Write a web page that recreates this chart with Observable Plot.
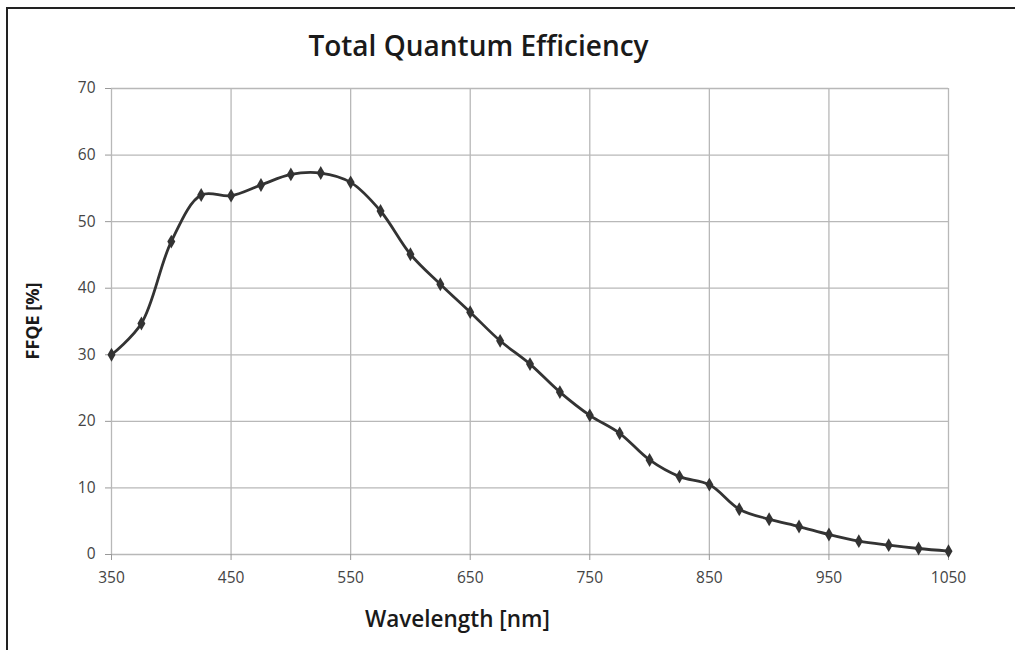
<!DOCTYPE html>
<html>
<head>
<meta charset="utf-8">
<script src="https://cdn.jsdelivr.net/npm/d3@7"></script>
<script src="https://cdn.jsdelivr.net/npm/@observablehq/plot@0.6"></script>
<style>
  html, body { margin: 0; padding: 0; background: #fff; overflow: hidden; }
  #wrap { position: relative; width: 1015px; height: 650px; overflow: hidden; }
  #frame { position: absolute; left: 6px; top: 7px; width: 1100px; height: 700px;
           border-top: 2px solid #222; border-left: 2px solid #222; pointer-events: none; }
  #title { position: absolute; left: 0; width: 957px; top: 26px; text-align: center;
           font-family: "Open Sans", sans-serif; font-weight: 600; font-size: 28px; color: #1a1a1a; }
  #xlabel { position: absolute; left: 0; width: 915px; top: 603px; text-align: center;
            font-family: "Open Sans", sans-serif; font-weight: 600; font-size: 22.5px; color: #1a1a1a; }
  #ylabel { position: absolute; left: 32px; top: 321px; transform: translate(-50%, -50%) rotate(-90deg);
            font-family: "Open Sans", sans-serif; font-weight: 700; font-size: 18px; color: #1a1a1a; white-space: nowrap; }
  svg { position: absolute; left: 0; top: 0; }
</style>
</head>
<body>
<div id="wrap">
  <div id="frame"></div>
  <div id="title">Total Quantum Efficiency</div>
  <div id="xlabel">Wavelength [nm]</div>
  <div id="ylabel">FFQE [%]</div>
</div>
<script>
const wavelengths = [350, 375, 400, 425, 450, 475, 500, 525, 550, 575, 600, 625, 650, 675, 700,
                     725, 750, 775, 800, 825, 850, 875, 900, 925, 950, 975, 1000, 1025, 1050];
const ffqe = [30.0, 34.7, 47.0, 54.0, 53.9, 55.5, 57.1, 57.3, 55.9, 51.6, 45.1, 40.6, 36.4, 32.1, 28.6,
              24.4, 20.9, 18.2, 14.2, 11.7, 10.5, 6.8, 5.3, 4.2, 3.0, 2.0, 1.4, 0.9, 0.5];
const xTicks = [350, 450, 550, 650, 750, 850, 950, 1050];
const yTicks = [0, 10, 20, 30, 40, 50, 60, 70];

const data = wavelengths.map((w, i) => ({w, v: ffqe[i]}));

const chart = Plot.plot({
  width: 1015,
  height: 650,
  marginLeft: 111,
  marginRight: 67,
  marginTop: 88,
  marginBottom: 96,
  style: {fontFamily: "'Open Sans', sans-serif", color: "#444", background: "transparent"},
  x: {domain: [350, 1050]},
  y: {domain: [0, 70]},
  marks: [
    Plot.ruleX(xTicks, {stroke: "#b8b8b8", strokeWidth: 1.3}),
    Plot.ruleY(yTicks, {stroke: "#b8b8b8", strokeWidth: 1.3}),
    Plot.axisX({ticks: xTicks, tickSize: 6, tickPadding: 11, fontSize: 15.5, tickFormat: d => String(d), label: null, stroke: "#999"}),
    Plot.axisY({ticks: yTicks, tickSize: 6, tickPadding: 10, fontSize: 15.5, label: null, stroke: "#999"}),
    Plot.line(data, {x: "w", y: "v", curve: "catmull-rom", stroke: "#333", strokeWidth: 2.8}),
    Plot.dot(data, {x: "w", y: "v", symbol: "diamond", r: 4.2, fill: "#333", stroke: "none"})
  ]
});
document.getElementById("wrap").appendChild(chart);
</script>
</body>
</html>
